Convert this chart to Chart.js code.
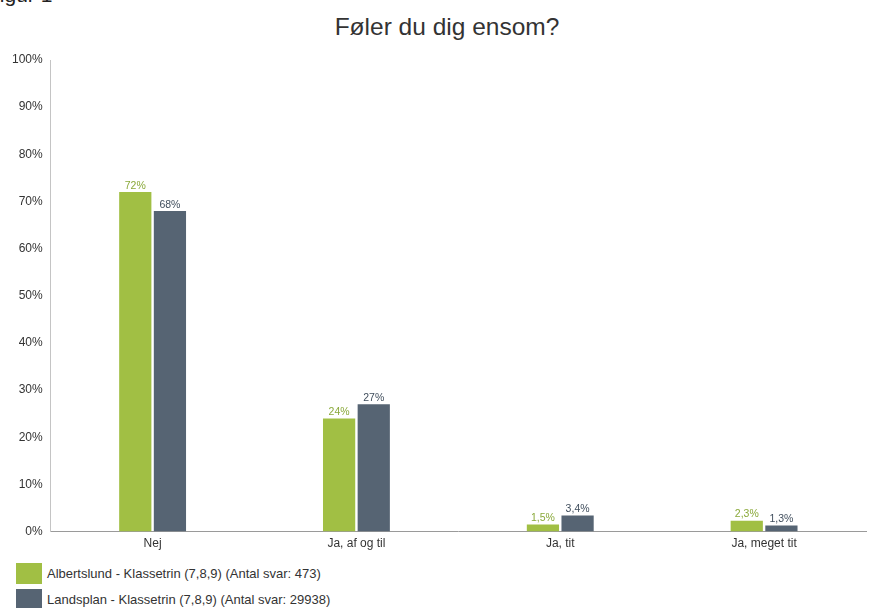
<!DOCTYPE html>
<html>
<head>
<meta charset="utf-8">
<script src="https://cdn.jsdelivr.net/npm/chart.js@4"></script>
<style>
html,body{margin:0;padding:0;background:#fff;width:874px;height:608px;overflow:hidden;font-family:"Liberation Sans",Arial,sans-serif;}
#wrap{position:absolute;left:0;top:0;width:874px;height:556px;}
#fig{position:absolute;left:-13px;top:-17px;font-size:21px;color:#222;white-space:nowrap;}
#title{position:absolute;left:0;top:13px;width:894px;text-align:center;font-size:24.5px;color:#333;white-space:nowrap;}
#legend{position:absolute;left:16px;top:563px;font-size:13px;color:#333;}
.li{display:flex;align-items:center;height:21px;margin-bottom:5px;}
.sw{width:26px;height:21px;margin-right:5px;}
</style>
</head>
<body>
<div id="fig">Figur 1</div>
<div id="title"></div>
<div id="wrap"><canvas id="c" width="874" height="556"></canvas></div>
<div id="legend"></div>
<script>
const title = "Føler du dig ensom?";
const categories = ["Nej", "Ja, af og til", "Ja, tit", "Ja, meget tit"];
const seriesNames = ["Albertslund - Klassetrin (7,8,9) (Antal svar: 473)", "Landsplan - Klassetrin (7,8,9) (Antal svar: 29938)"];
const albertslund = [72, 24, 1.5, 2.3];
const landsplan = [68, 27, 3.4, 1.3];
const yTicks = [0, 10, 20, 30, 40, 50, 60, 70, 80, 90, 100];

const barColors = ["#a1bf44", "#566473"];
const labelColors = ["#8aa93a", "#404e5d"];

const fmt = v => String(v).replace('.', ',') + '%';

document.getElementById('title').textContent = title;

const valueLabels = {
  id: 'valueLabels',
  afterDatasetsDraw(chart) {
    const ctx = chart.ctx;
    ctx.save();
    ctx.font = '10.5px "Liberation Sans", Arial, sans-serif';
    ctx.textAlign = 'center';
    ctx.textBaseline = 'bottom';
    chart.data.datasets.forEach((ds, di) => {
      const meta = chart.getDatasetMeta(di);
      ctx.fillStyle = labelColors[di];
      meta.data.forEach((bar, i) => {
        ctx.fillText(fmt(ds.data[i]), bar.x, bar.y - 1);
      });
    });
    ctx.restore();
  }
};

new Chart(document.getElementById('c'), {
  type: 'bar',
  data: {
    labels: categories,
    datasets: [
      { label: seriesNames[0], data: albertslund, backgroundColor: barColors[0] },
      { label: seriesNames[1], data: landsplan, backgroundColor: barColors[1] }
    ]
  },
  options: {
    responsive: false,
    animation: false,
    devicePixelRatio: 1,
    layout: { padding: { left: 4, right: 8, top: 60, bottom: 0 } },
    datasets: { bar: { categoryPercentage: 0.34, barPercentage: 0.93 } },
    plugins: {
      legend: { display: false },
      tooltip: { enabled: false },
      title: { display: false }
    },
    scales: {
      x: {
        grid: { display: false, drawTicks: false },
        border: { color: '#9a9a9a', width: 1 },
        ticks: { color: '#333', font: { family: '"Liberation Sans", Arial, sans-serif', size: 12 }, padding: 5 }
      },
      y: {
        min: 0, max: 100,
        afterBuildTicks: axis => { axis.ticks = yTicks.map(v => ({ value: v })); },
        grid: { display: false, drawTicks: false },
        border: { color: '#c4c4c4', width: 1 },
        ticks: { color: '#333', font: { family: '"Liberation Sans", Arial, sans-serif', size: 12 }, padding: 8, callback: v => v + '%' }
      }
    }
  },
  plugins: [valueLabels]
});

const leg = document.getElementById('legend');
seriesNames.forEach((n, i) => {
  const d = document.createElement('div'); d.className = 'li';
  const s = document.createElement('div'); s.className = 'sw'; s.style.background = barColors[i];
  const t = document.createElement('span'); t.textContent = n;
  d.appendChild(s); d.appendChild(t); leg.appendChild(d);
});
</script>
</body>
</html>
